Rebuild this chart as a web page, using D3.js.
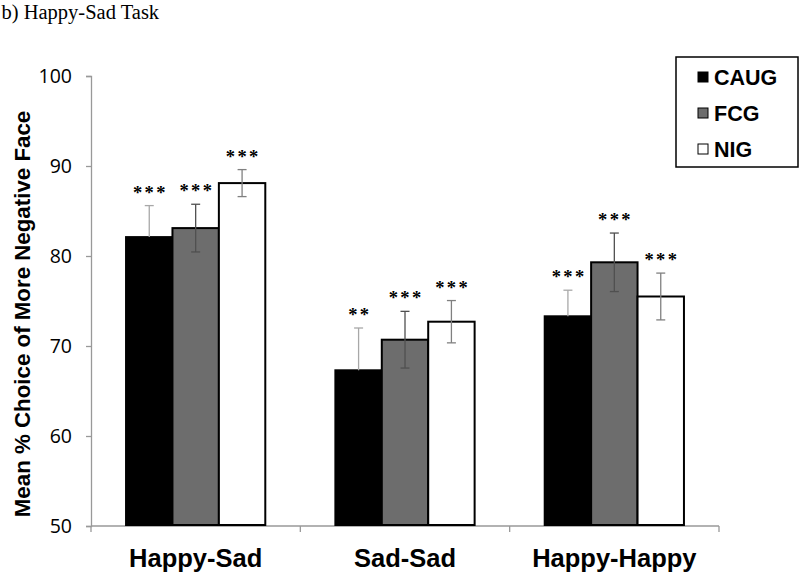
<!DOCTYPE html>
<html><head><meta charset="utf-8">
<script src="https://cdn.jsdelivr.net/npm/d3@7"></script>
<style>body{margin:0;background:#fff}</style>
</head><body>
<svg id="c" width="800" height="572"></svg>
<script>
const categories = ["Happy-Sad", "Sad-Sad", "Happy-Happy"];
const series = ["CAUG", "FCG", "NIG"];
const means = {
  "CAUG": [82.1, 67.3, 73.3],
  "FCG":  [83.1, 70.7, 79.3],
  "NIG":  [88.1, 72.7, 75.5]
};
const errors = {
  "CAUG": [3.5, 4.7, 2.9],
  "FCG":  [2.65, 3.15, 3.25],
  "NIG":  [1.5, 2.35, 2.6]
};
const stars = {
  "CAUG": ["***", "**", "***"],
  "FCG":  ["***", "***", "***"],
  "NIG":  ["***", "***", "***"]
};
const yTicks = [50, 60, 70, 80, 90, 100];
const fills = {"CAUG": "#000000", "FCG": "#6d6d6d", "NIG": "#ffffff"};
const errColor = {"CAUG": "#a8a8a8", "FCG": "#505050", "NIG": "#808080"};

const svg = d3.select("#c");
const mLeft = 91, mRight = 719, mTop = 76, mBottom = 526;

const y = d3.scaleLinear().domain([50, 100]).range([mBottom, mTop]);
const x0 = d3.scaleBand().domain(categories).range([mLeft, mRight]).paddingInner(0).paddingOuter(0);
const x1 = d3.scaleBand().domain(series).range([0, x0.bandwidth()]).paddingInner(0).paddingOuter(0.755);

// title
svg.append("text").attr("x", 1.5).attr("y", 19)
  .attr("font-family", "Liberation Serif, Times New Roman, serif").attr("font-size", 20.5)
  .text("b) Happy-Sad Task");

// y axis
const yAxis = svg.append("g").attr("transform", `translate(${mLeft},0)`)
  .call(d3.axisLeft(y).tickValues(yTicks).tickSize(5).tickPadding(14));
yAxis.select(".domain").attr("stroke", "#999").attr("stroke-width", 1.3);
yAxis.selectAll(".tick line").attr("stroke", "#999").attr("stroke-width", 1.3);
yAxis.selectAll(".tick text").attr("font-family", "Open Sans, sans-serif").attr("font-size", 19.5).attr("fill", "#000");

// x axis
const xg = svg.append("g").attr("transform", `translate(0,${mBottom})`);
xg.append("line").attr("x1", mLeft).attr("x2", mRight).attr("stroke", "#999").attr("stroke-width", 1.3);
const bounds = categories.map(c => x0(c)).concat([x0(categories[categories.length-1]) + x0.bandwidth()]);
xg.selectAll("line.t").data(bounds).join("line").attr("class", "t")
  .attr("x1", d => d).attr("x2", d => d).attr("y1", 0).attr("y2", 6)
  .attr("stroke", "#999").attr("stroke-width", 1.3);
xg.selectAll("text").data(categories).join("text")
  .attr("x", d => x0(d) + x0.bandwidth()/2).attr("y", 41)
  .attr("text-anchor", "middle")
  .attr("font-family", "Liberation Sans, Arial, sans-serif").attr("font-weight", "bold").attr("font-size", 25.5)
  .text(d => d);

// y label
svg.append("text").attr("transform", `translate(30,${(mTop+mBottom)/2 + 13}) rotate(-90)`)
  .attr("text-anchor", "middle")
  .attr("font-family", "Liberation Sans, Arial, sans-serif").attr("font-weight", "bold").attr("font-size", 22.3)
  .text("Mean % Choice of More Negative Face");

// bars
const data = [];
categories.forEach((c, i) => series.forEach(s => data.push({c, s, v: means[s][i], e: errors[s][i], st: stars[s][i]})));

const g = svg.append("g");
g.selectAll("rect").data(data).join("rect")
  .attr("x", d => x0(d.c) + x1(d.s))
  .attr("y", d => y(d.v))
  .attr("width", x1.bandwidth())
  .attr("height", d => y(50) - y(d.v) - 1)
  .attr("fill", d => fills[d.s])
  .attr("stroke", "#000").attr("stroke-width", 2);

// error bars
const eb = svg.append("g");
data.forEach(d => {
  const cx = x0(d.c) + x1(d.s) + x1.bandwidth()/2;
  const lo = d.s === "CAUG" ? d.v : d.v - d.e;
  const hi = d.v + d.e;
  const col = errColor[d.s];
  eb.append("line").attr("x1", cx).attr("x2", cx).attr("y1", y(lo)).attr("y2", y(hi)).attr("stroke", col).attr("stroke-width", 1.3);
  eb.append("line").attr("x1", cx-4.5).attr("x2", cx+4.5).attr("y1", y(hi)).attr("y2", y(hi)).attr("stroke", col).attr("stroke-width", 1.3);
  if (d.s !== "CAUG")
    eb.append("line").attr("x1", cx-4.5).attr("x2", cx+4.5).attr("y1", y(d.v-d.e)).attr("y2", y(d.v-d.e)).attr("stroke", col).attr("stroke-width", 1.3);
  eb.append("text").attr("x", cx + 1.2).attr("y", y(hi) - 7)
    .attr("text-anchor", "middle")
    .attr("font-family", "Liberation Serif, Times New Roman, serif").attr("font-size", 18.5)
    .attr("font-weight", "bold").attr("letter-spacing", 2.4)
    .text(d.st);
});

// legend
const lg = svg.append("g");
lg.append("rect").attr("x", 676).attr("y", 57).attr("width", 122).attr("height", 110)
  .attr("fill", "#fff").attr("stroke", "#000").attr("stroke-width", 1.5);
series.forEach((s, i) => {
  const cy = 77 + i * 36;
  lg.append("rect").attr("x", 698).attr("y", cy - 5).attr("width", 10).attr("height", 10)
    .attr("fill", fills[s]).attr("stroke", "#000").attr("stroke-width", 1);
  lg.append("text").attr("x", 714).attr("y", cy + 8)
    .attr("font-family", "Liberation Sans, Arial, sans-serif").attr("font-weight", "bold").attr("font-size", 21.5)
    .text(s);
});
</script>
</body></html>
